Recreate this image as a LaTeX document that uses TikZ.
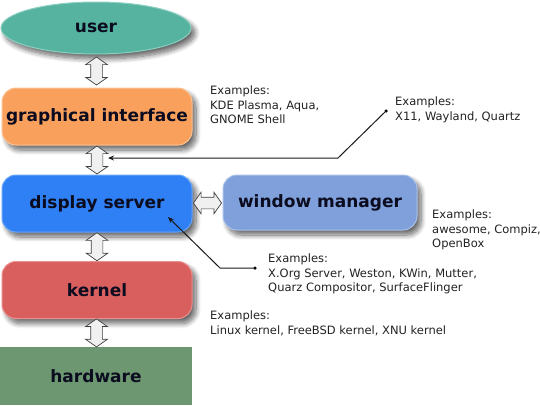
\documentclass[tikz,border=0pt]{standalone}
\usepackage{fontspec}
\setmainfont{DejaVu Sans}
\usetikzlibrary{shapes.geometric,shapes.arrows,shadows.blur,arrows.meta,calc}
\definecolor{labelcol}{HTML}{0C0C20}
\definecolor{exgray}{HTML}{222222}
\definecolor{userfill}{HTML}{55B3A0}
\definecolor{userline}{HTML}{8ACFC0}
\definecolor{gifill}{HTML}{F9A15C}
\definecolor{giline}{HTML}{FCC394}
\definecolor{dsfill}{HTML}{2F80F4}
\definecolor{dsline}{HTML}{6AA6F7}
\definecolor{wmfill}{HTML}{7FA0DA}
\definecolor{wmline}{HTML}{ABC2EA}
\definecolor{kfill}{HTML}{D95F5E}
\definecolor{kline}{HTML}{E8908E}
\definecolor{hwfill}{HTML}{6C9770}
\begin{document}
\begin{tikzpicture}[x=1pt,y=-1pt,
 lbl/.style={font=\bfseries\fontsize{17}{20}\selectfont, text=labelcol},
 shad/.style={blur shadow={shadow xshift=4pt, shadow yshift=-5pt, shadow blur steps=10, shadow blur radius=5pt, shadow opacity=60}},
 box/.style={lbl, shad, rounded corners=14pt, minimum width=190pt, minimum height=57pt, line width=1pt},
 ex/.style={font=\fontsize{11.5}{14.5}\selectfont, align=left, anchor=north west, inner sep=0pt, text=exgray},
 dar/.style={double arrow, draw=black!75, fill=gray!12, line width=0.7pt, minimum height=28pt, inner xsep=0pt, inner ysep=5.5pt, double arrow head extend=5pt, double arrow tip angle=110},
 conn/.style={line width=1pt, draw=black!90},
 dotn/.style={circle, fill=black, inner sep=0pt, minimum size=3.5pt}]
\useasboundingbox (0,0) rectangle (540,405);

\node[ellipse, lbl, shad, fill=userfill, draw=userline, line width=1pt, minimum width=190pt, minimum height=52pt] (user) at (96,28) {user};
\node[box, fill=gifill, draw=giline] (gi) at (97,116.5) {graphical interface};
\node[box, fill=dsfill, draw=dsline] (ds) at (97,203.5) {display server};
\node[box, fill=wmfill, draw=wmline, minimum width=194pt, minimum height=55pt] (wm) at (320,202.5) {window manager};
\node[box, fill=kfill, draw=kline] (kernel) at (97,290) {kernel};
\node[lbl, fill=hwfill, minimum width=192pt, minimum height=58pt, inner sep=0pt] (hw) at (96,376) {hardware};

\node[dar, rotate=90] (a1) at ($(user.south)!0.5!(gi.north)$) {};
\node[dar, rotate=90] (a2) at ($(gi.south)!0.5!(ds.north)$) {};
\node[dar, rotate=90] (a3) at ($(ds.south)!0.5!(kernel.north)$) {};
\node[dar, rotate=90] (a4) at ($(kernel.south)!0.5!(hw.north)$) {};
\node[dar] (a5) at ($(ds.east)!0.5!(wm.west)$) {};

\node[ex] (exgi) at (210,86) {Examples:\\KDE Plasma, Aqua,\\GNOME Shell};
\node[ex] (exds) at (395,97) {Examples:\\X11, Wayland, Quartz};
\node[ex] (exwm) at (432,210) {Examples:\\awesome, Compiz,\\OpenBox};
\node[ex] (exsrv) at (268,254) {Examples:\\X.Org Server, Weston, KWin, Mutter,\\Quarz Compositor, SurfaceFlinger};
\node[ex] (exk) at (210,311) {Examples:\\Linux kernel, FreeBSD kernel, XNU kernel};

\node[dotn] (d1) at (386,111) {};
\coordinate (b1) at (338,158);
\coordinate (t1) at (108,158);
\draw[conn, -{Stealth[length=6pt,width=5pt]}] (d1.center) -- (b1) -- (t1);

\node[dotn] (d2) at (255,268) {};
\coordinate (b2) at (220,268);
\coordinate (t2) at (168,217);
\draw[conn, -{Stealth[length=6pt,width=5pt]}] (d2.center) -- (b2) -- (t2);
\end{tikzpicture}
\end{document}
